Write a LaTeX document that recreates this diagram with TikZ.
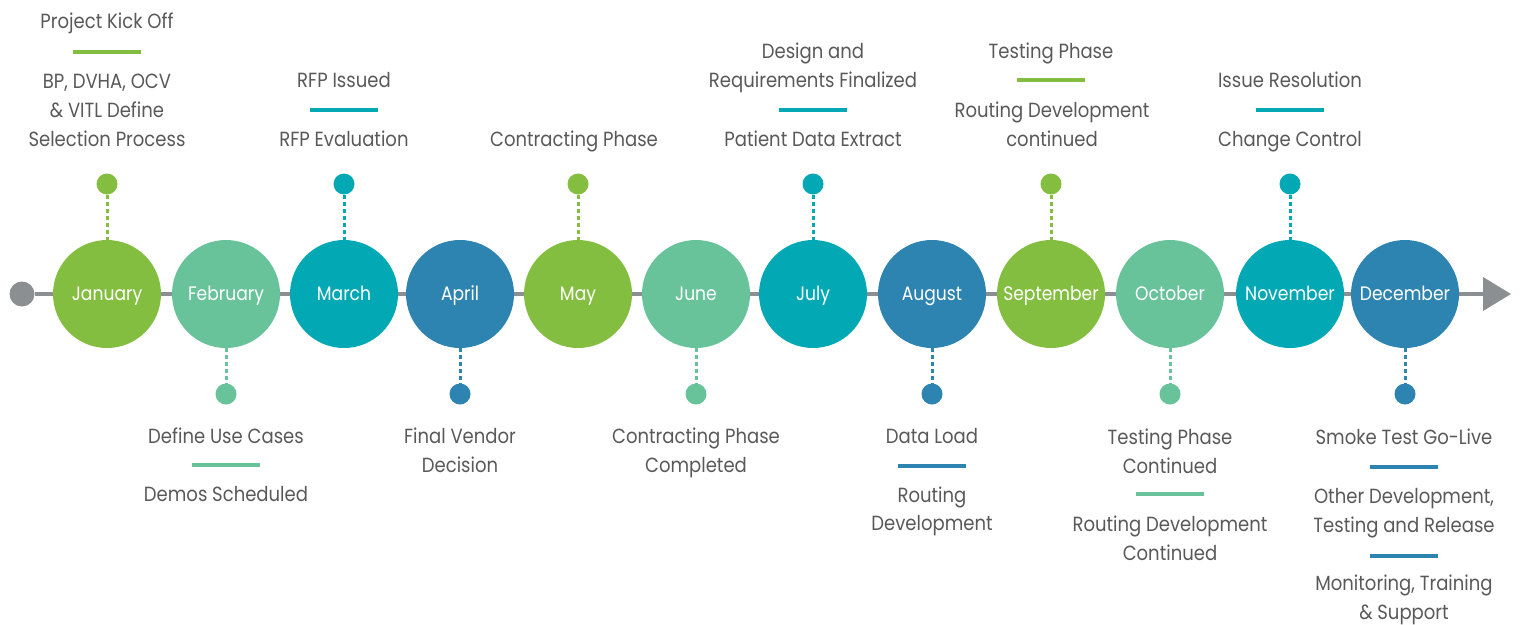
\documentclass[tikz,border=0pt]{standalone}
\usepackage{fontspec}
\setmainfont{Poppins}[FakeStretch=0.88]
\usetikzlibrary{arrows.meta}
\definecolor{cgreen}{HTML}{84BE41}
\definecolor{cmint}{HTML}{68C39B}
\definecolor{cteal}{HTML}{02A9B5}
\definecolor{cblue}{HTML}{2E84B1}
\definecolor{tgrey}{HTML}{595959}
\definecolor{agrey}{HTML}{8C8F91}
\begin{document}
\begin{tikzpicture}[x=1pt,y=-1pt,
  month/.style={circle, minimum size=108pt, inner sep=0pt, fill=#1, text=white,
    font=\fontsize{19.5}{19.5}\selectfont, text depth=1.5pt},
  pin/.style={circle, minimum size=21pt, inner sep=0pt, fill=#1},
  stem/.style={draw=#1, line width=3pt, dash pattern=on 4pt off 3pt},
  txt/.style={text=tgrey, font=\fontsize{20.5}{20.5}\selectfont, inner sep=0pt, anchor=mid, yshift=-5pt},
  bar/.style={draw=#1, line width=4pt},
  axis/.style={draw=agrey, line width=4pt}]
\useasboundingbox (0,0) rectangle (1520,624);

% axis
\node[circle, fill=agrey, minimum size=25pt, inner sep=0pt] (start) at (22,294) {};
\coordinate (end) at (1511,294);
\draw[axis, -{Triangle[length=28pt,width=33pt]}] (start) -- (end);

% months
\node[month=cgreen] (jan) at (107,294) {January};
\node[month=cmint]  (feb) at (226,294) {February};
\node[month=cteal]  (mar) at (344,294) {March};
\node[month=cblue]  (apr) at (460,294) {April};
\node[month=cgreen] (may) at (578,294) {May};
\node[month=cmint]  (jun) at (696,294) {June};
\node[month=cteal]  (jul) at (813,294) {July};
\node[month=cblue]  (aug) at (932,294) {August};
\node[month=cgreen] (sep) at (1051,294) {September};
\node[month=cmint]  (oct) at (1170,294) {October};
\node[month=cteal]  (nov) at (1290,294) {November};
\node[month=cblue]  (dec) at (1405,294) {December};

% pins and stems
\node[pin=cgreen] (jan-p) at (107,184) {};
\node[pin=cteal]  (mar-p) at (344,184) {};
\node[pin=cgreen] (may-p) at (578,184) {};
\node[pin=cteal]  (jul-p) at (813,184) {};
\node[pin=cgreen] (sep-p) at (1051,184) {};
\node[pin=cteal]  (nov-p) at (1290,184) {};
\node[pin=cmint]  (feb-p) at (226,394) {};
\node[pin=cblue]  (apr-p) at (460,394) {};
\node[pin=cmint]  (jun-p) at (696,394) {};
\node[pin=cblue]  (aug-p) at (932,394) {};
\node[pin=cmint]  (oct-p) at (1170,394) {};
\node[pin=cblue]  (dec-p) at (1405,394) {};
\draw[stem=cgreen] (jan-p) -- (jan);
\draw[stem=cteal]  (mar-p) -- (mar);
\draw[stem=cgreen] (may-p) -- (may);
\draw[stem=cteal]  (jul-p) -- (jul);
\draw[stem=cgreen] (sep-p) -- (sep);
\draw[stem=cteal]  (nov-p) -- (nov);
\draw[stem=cmint]  (feb) -- (feb-p);
\draw[stem=cblue]  (apr) -- (apr-p);
\draw[stem=cmint]  (jun) -- (jun-p);
\draw[stem=cblue]  (aug) -- (aug-p);
\draw[stem=cmint]  (oct) -- (oct-p);
\draw[stem=cblue]  (dec) -- (dec-p);

% January
\node[txt] (jan-t1) at (107,21) {Project Kick Off};
\draw[bar=cgreen] (73,52) -- (141,52);
\node[txt] (jan-t2) at (107,81) {BP, DVHA, OCV};
\node[txt] (jan-t3) at (107,110) {\& VITL Define};
\node[txt] (jan-t4) at (107,139) {Selection Process};
% March
\node[txt] (mar-t1) at (344,80) {RFP Issued};
\draw[bar=cteal] (310,110) -- (378,110);
\node[txt] (mar-t2) at (344,139) {RFP Evaluation};
% May
\node[txt] (may-t1) at (574,139) {Contracting Phase};
% July
\node[txt] (jul-t1) at (813,51) {Design and};
\node[txt] (jul-t2) at (813,80) {Requirements Finalized};
\draw[bar=cteal] (779,110) -- (847,110);
\node[txt] (jul-t3) at (813,139) {Patient Data Extract};
% September
\node[txt] (sep-t1) at (1051,51) {Testing Phase};
\draw[bar=cgreen] (1017,80) -- (1085,80);
\node[txt] (sep-t2) at (1052,110) {Routing Development};
\node[txt] (sep-t3) at (1052,139) {continued};
% November
\node[txt] (nov-t1) at (1290,80) {Issue Resolution};
\draw[bar=cteal] (1256,110) -- (1324,110);
\node[txt] (nov-t2) at (1290,139) {Change Control};

% February
\node[txt] (feb-t1) at (226,436) {Define Use Cases};
\draw[bar=cmint] (192,465) -- (260,465);
\node[txt] (feb-t2) at (226,494) {Demos Scheduled};
% April
\node[txt] (apr-t1) at (460,436) {Final Vendor};
\node[txt] (apr-t2) at (460,465) {Decision};
% June
\node[txt] (jun-t1) at (696,436) {Contracting Phase};
\node[txt] (jun-t2) at (696,465) {Completed};
% August
\node[txt] (aug-t1) at (932,436) {Data Load};
\draw[bar=cblue] (898,466) -- (966,466);
\node[txt] (aug-t2) at (932,495) {Routing};
\node[txt] (aug-t3) at (932,523) {Development};
% October
\node[txt] (oct-t1) at (1170,437) {Testing Phase};
\node[txt] (oct-t2) at (1170,466) {Continued};
\draw[bar=cmint] (1136,494) -- (1204,494);
\node[txt] (oct-t3) at (1170,524) {Routing Development};
\node[txt] (oct-t4) at (1170,553) {Continued};
% December
\node[txt] (dec-t1) at (1404,437) {Smoke Test Go-Live};
\draw[bar=cblue] (1370,467) -- (1438,467);
\node[txt] (dec-t2) at (1404,496) {Other Development,};
\node[txt] (dec-t3) at (1404,525) {Testing and Release};
\draw[bar=cblue] (1370,556) -- (1438,556);
\node[txt] (dec-t4) at (1404,583) {Monitoring, Training};
\node[txt] (dec-t5) at (1404,612) {\& Support};
\end{tikzpicture}
\end{document}
